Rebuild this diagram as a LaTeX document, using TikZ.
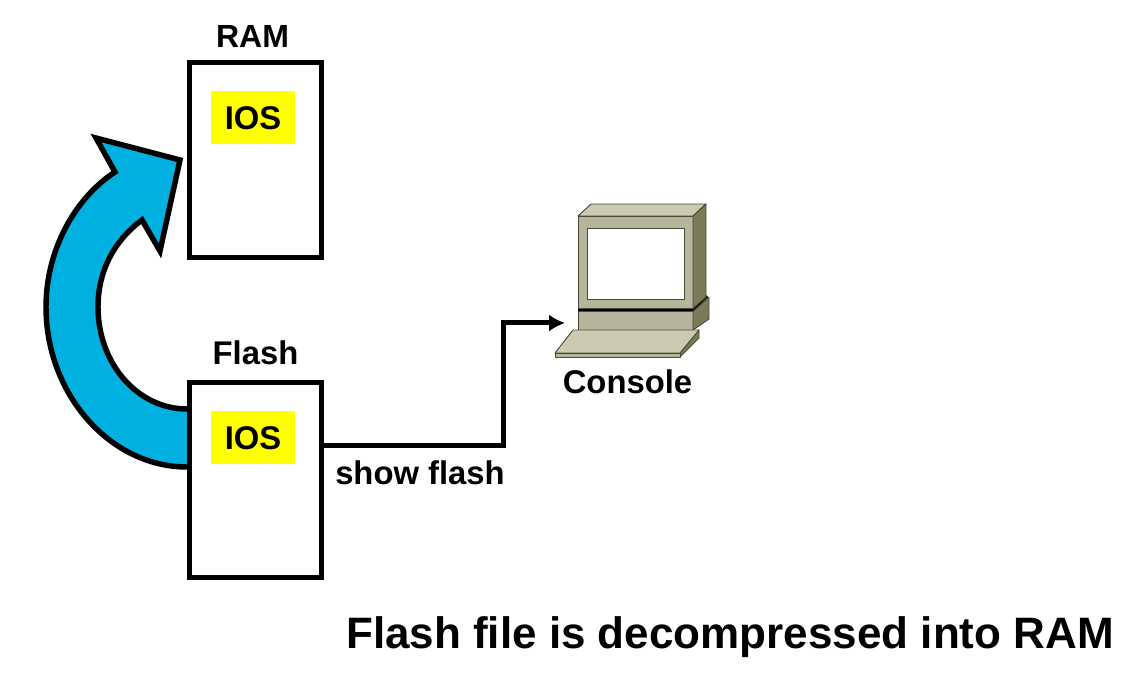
\documentclass[tikz,border=0pt]{standalone}
\usepackage{fontspec}
\setmainfont{Liberation Sans}
\usetikzlibrary{arrows.meta,positioning,calc}

\definecolor{arrowblue}{HTML}{00B0E0}
\definecolor{iosyellow}{HTML}{FFFF00}
\definecolor{pclight}{HTML}{CBCBB4}
\definecolor{pcmid}{HTML}{B5B59B}
\definecolor{pcdark}{HTML}{7B7B5A}
\definecolor{pcline}{HTML}{4A4A38}

\begin{document}
\begin{tikzpicture}[x=0.75pt,y=-0.75pt]

\tikzset{every node/.style = {font=\bfseries\fontsize{24.6}{28}\selectfont}}
\tikzstyle{membox} = [rectangle, draw, fill=white, line width=3.75pt, minimum width=99pt, minimum height=146.25pt, node distance=90pt]
\tikzstyle{iosbox} = [rectangle, fill=iosyellow, minimum width=63pt, minimum height=40pt, inner sep=0pt]
\tikzstyle{pcface} = [draw=pcline, line width=0.7pt, line join=round]

\useasboundingbox (0,0) rectangle (1131,673);

% curved arrow goes behind the boxes
\draw[fill=arrowblue, line width=4.1pt, miter limit=10]
  (195,467) -- (187,467) .. controls (110,467) and (46,394) .. (46,307)
  .. controls (46,250) and (75,198) .. (115,172)
  -- (96,138) -- (180,160) -- (160,251) -- (142,220)
  .. controls (115,240) and (98,270) .. (98,307)
  .. controls (98,364) and (138,409) .. (187,409) -- (195,409) -- cycle;

\node[membox]  (ram)       at (255,160)                {};
\node[membox]  (flash)     [below= of ram]             {};
\node[iosbox]  (ios_r)     at (253,117.5)              {};
\node[iosbox]  (ios_f)     at (253,437.5)              {};
\node[inner sep=0pt] (ios_rt)  at (253,118.5)          {IOS};
\node[inner sep=0pt] (ios_ft)  at (253,438.5)          {IOS};
\node[inner sep=0pt, font=\bfseries\fontsize{24}{28}\selectfont] (ram_l) at (252.5,36) {RAM};
\node[inner sep=0pt] (flash_l) at (255.5,353)          {Flash};

% console
\fill[black] (578,306) -- (693,306) -- (706,295) -- (708,297) -- (693,312) -- (578,312) -- cycle;
\draw[pcface, fill=pclight] (578,216) -- (591,204) -- (706,204) -- (693,216) -- cycle;
\draw[pcface, fill=pcmid]   (578,216) rectangle (693,308.5);
\draw[pcface, fill=pcdark]  (693,216) -- (706,204) -- (706,297) -- (693,308.5) -- cycle;
\draw[draw=pcline, fill=white, line width=0.7pt] (587,228) rectangle (684,299);
\draw[pcface, fill=pcmid]   (578,311.5) rectangle (693,330);
\draw[pcface, fill=pcdark]  (693,311.5) -- (709,297) -- (709,319) -- (693,330) -- cycle;
\draw[pcface, fill=pcdark]  (680,353) -- (699,330) -- (699,338) -- (680,357) -- cycle;
\draw[pcface, fill=pcmid]   (555,353) rectangle (680,357);
\draw[pcface, fill=pclight] (555,353) -- (573,330) -- (699,330) -- (680,353) -- cycle;

\node[inner sep=0pt] (console_l) at (627.5,382) {Console};
\coordinate (flash_out) at (flash.east |- 0,445);
\coordinate (bend_a)    at (503,445);
\coordinate (bend_b)    at (503,323);
\coordinate (console_i) at (565,323);

\draw[line width=3.75pt, -{Latex[length=12pt,width=13pt]}, line join=miter]
  (flash_out) -- (bend_a) -- (bend_b) -- (console_i);

\node[inner sep=0pt] (show_l)  at (420,473)  {show flash};
\node[inner sep=0pt, font=\bfseries\fontsize{33}{38}\selectfont] (title) at (730,637) {Flash file is decompressed into RAM};

\end{tikzpicture}
\end{document}
